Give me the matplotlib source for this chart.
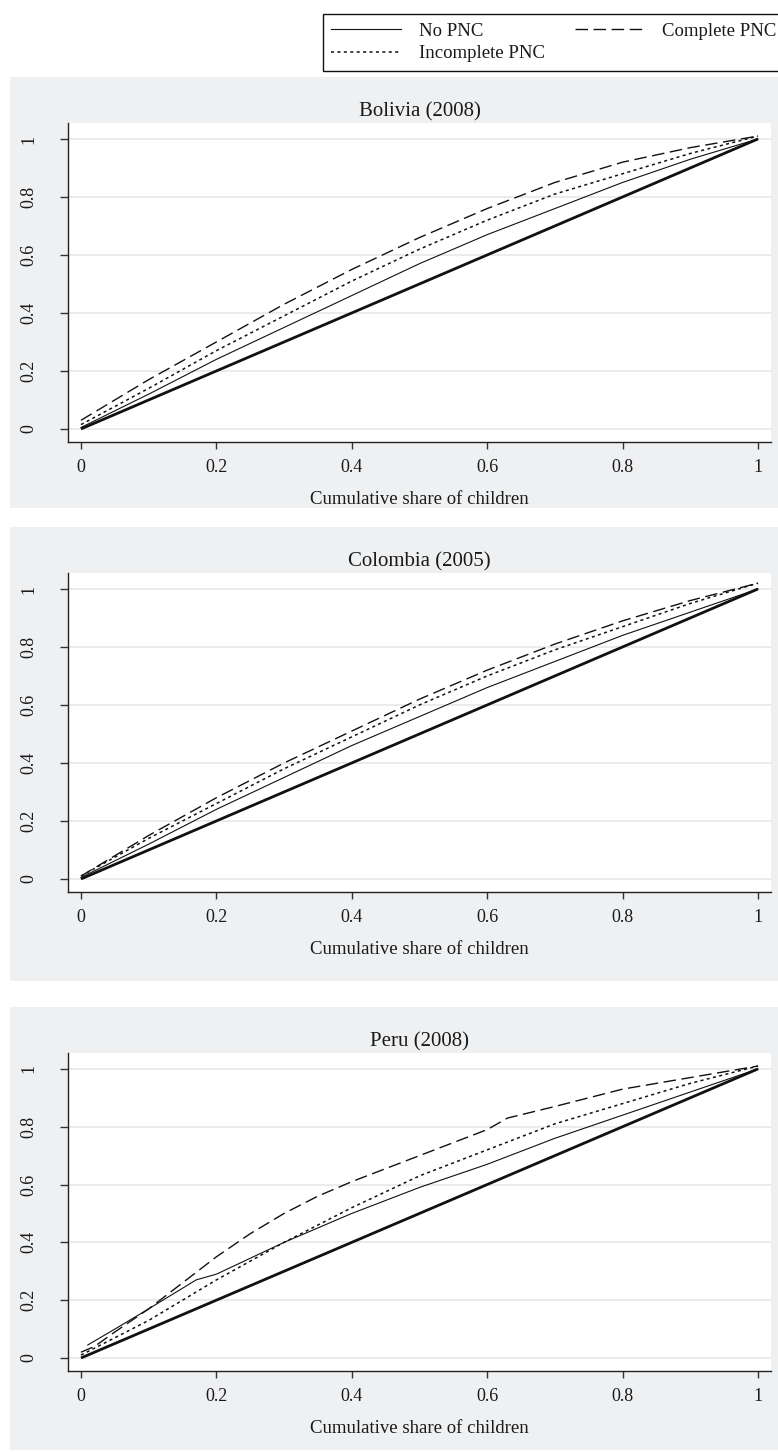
import matplotlib
matplotlib.use("Agg")
import matplotlib.pyplot as plt
from matplotlib.patches import Rectangle

plt.rcParams['font.family'] = ['Liberation Serif', 'DejaVu Serif']

W, H = 778, 1452

# ---------------- data ----------------
countries = ["Bolivia (2008)", "Colombia (2005)", "Peru (2008)"]
series_names = ["No PNC", "Incomplete PNC", "Complete PNC"]

equality_x = [0, 1]
equality_y = [0, 1]

# Bolivia
bol_x = [0, 0.1, 0.2, 0.3, 0.4, 0.5, 0.6, 0.7, 0.8, 0.9, 1.0]
bol_no = [0.005, 0.12, 0.24, 0.35, 0.46, 0.57, 0.67, 0.76, 0.85, 0.93, 1.00]
bol_inc = [0.015, 0.14, 0.27, 0.39, 0.51, 0.62, 0.72, 0.81, 0.88, 0.95, 1.01]
bol_comp = [0.03, 0.17, 0.30, 0.43, 0.55, 0.66, 0.76, 0.85, 0.92, 0.97, 1.01]

# Colombia
col_x = [0, 0.1, 0.2, 0.3, 0.4, 0.5, 0.6, 0.7, 0.8, 0.9, 1.0]
col_no = [0.005, 0.12, 0.24, 0.35, 0.46, 0.56, 0.66, 0.75, 0.84, 0.92, 1.00]
col_inc = [0.01, 0.14, 0.26, 0.38, 0.49, 0.60, 0.70, 0.79, 0.87, 0.95, 1.02]
col_comp = [0.01, 0.15, 0.28, 0.40, 0.51, 0.62, 0.72, 0.81, 0.89, 0.96, 1.02]

# Peru
per_no_x = [0.01, 0.05, 0.1, 0.17, 0.2, 0.3, 0.4, 0.5, 0.6, 0.7, 0.8, 0.9, 1.0]
per_no = [0.045, 0.10, 0.17, 0.27, 0.29, 0.40, 0.50, 0.59, 0.67, 0.76, 0.84, 0.92, 1.00]
per_inc_x = [0, 0.05, 0.1, 0.2, 0.3, 0.4, 0.5, 0.6, 0.7, 0.8, 0.9, 1.0]
per_inc = [0.01, 0.07, 0.13, 0.27, 0.40, 0.52, 0.63, 0.72, 0.81, 0.88, 0.95, 1.01]
per_comp_x = [0, 0.02, 0.05, 0.1, 0.15, 0.2, 0.25, 0.3, 0.35, 0.4, 0.5, 0.6, 0.63, 0.7, 0.8, 0.9, 1.0]
per_comp = [0.02, 0.04, 0.09, 0.17, 0.26, 0.35, 0.43, 0.50, 0.56, 0.61, 0.70, 0.79, 0.83, 0.87, 0.93, 0.97, 1.01]

panels = [
    dict(title=countries[0], no=(bol_x, bol_no), inc=(bol_x, bol_inc), comp=(bol_x, bol_comp)),
    dict(title=countries[1], no=(col_x, col_no), inc=(col_x, col_inc), comp=(col_x, col_comp)),
    dict(title=countries[2], no=(per_no_x, per_no), inc=(per_inc_x, per_inc), comp=(per_comp_x, per_comp)),
]

xticks = [0, 0.2, 0.4, 0.6, 0.8, 1]
xticklabels = ["0", "0.2", "0.4", "0.6", "0.8", "1"]
yticks = [0, 0.2, 0.4, 0.6, 0.8, 1]
yticklabels = ["0", "0.2", "0.4", "0.6", "0.8", "1"]
xlabel = "Cumulative share of children"

# ---------------- layout (pixels) ----------------
grey_boxes = [(77, 508), (527, 981), (1007, 1450)]
axes_boxes = [(123, 442), (573, 892), (1053, 1371)]
ax_left, ax_right = 68, 771
panel_left = 10

GREY = '#eff0f2'
TXT = '#1a1a1a'

fig = plt.figure(figsize=(W / 100, H / 100), dpi=100)
fig.patch.set_facecolor('white')

for (gt, gb) in grey_boxes:
    fig.patches.append(Rectangle((panel_left / W, 1 - gb / H), (W - panel_left) / W, (gb - gt) / H,
                                 transform=fig.transFigure, facecolor=GREY, edgecolor='none', zorder=-10))

handles = None
for p, (at, ab) in zip(panels, axes_boxes):
    ax = fig.add_axes([ax_left / W, 1 - ab / H, (ax_right - ax_left) / W, (ab - at) / H])
    ax.set_zorder(1)
    ax.set_facecolor('white')
    ax.set_xlim(-0.0192, 1.0192)
    ax.set_ylim(-0.045, 1.055)
    for yv in yticks:
        ax.axhline(yv, color='#e6e6e6', lw=1.1, zorder=1)
    ax.plot(equality_x, equality_y, color='#111111', lw=2.0, zorder=3, solid_capstyle='butt')
    l1, = ax.plot(*p['no'], color='#111111', lw=0.8, zorder=4, label=series_names[0])
    l2, = ax.plot(*p['inc'], color='#111111', lw=1.1, ls=(0, (2.0, 2.2)), zorder=4, label=series_names[1])
    l3, = ax.plot(*p['comp'], color='#111111', lw=1.0, ls=(0, (9, 4)), zorder=4, label=series_names[2])
    if handles is None:
        handles = [l1, l2, l3]
    for s in ['top', 'right']:
        ax.spines[s].set_visible(False)
    for s in ['left', 'bottom']:
        ax.spines[s].set_color('#222222')
        ax.spines[s].set_linewidth(1.0)
    ax.set_xticks(xticks)
    ax.set_xticklabels(xticklabels)
    ax.set_yticks(yticks)
    ax.set_yticklabels(yticklabels, rotation=90, va='center')
    ax.tick_params(axis='x', length=5, width=1.0, color='#333333', pad=7, labelsize=13, labelcolor=TXT)
    ax.tick_params(axis='y', length=6, width=1.0, color='#333333', pad=16, labelsize=13, labelcolor=TXT)
    ax.set_xlabel(xlabel, fontsize=13.5, color=TXT, labelpad=11)
    ax.set_title(p['title'], fontsize=15, color=TXT, pad=5)

leg = fig.legend(handles=handles, labels=series_names, ncol=2, loc='upper left',
                 bbox_to_anchor=(323 / W, 1 - 14 / H), fontsize=13.5, frameon=True,
                 fancybox=False, edgecolor='#111111', framealpha=1, borderpad=0.45,
                 labelspacing=0.3, handlelength=3.7, handletextpad=0.95, columnspacing=1.6,
                 borderaxespad=0)
leg.get_frame().set_linewidth(1.0)
for t in leg.get_texts():
    t.set_color(TXT)

fig.savefig("out.png", dpi=100)
